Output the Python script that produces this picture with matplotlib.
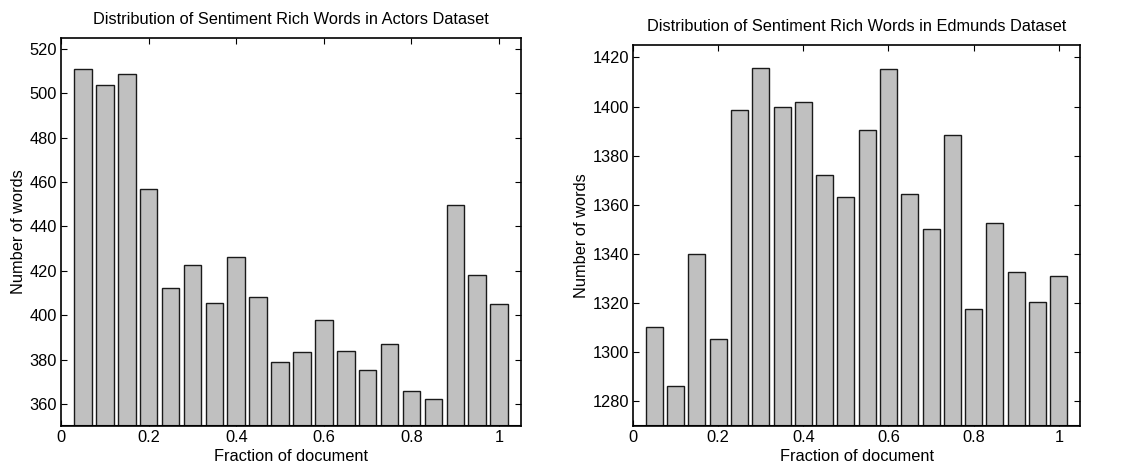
import numpy as np
import matplotlib
matplotlib.use("Agg")
import matplotlib.pyplot as plt

plt.rcParams['font.family'] = ['Liberation Sans', 'DejaVu Sans']

# Bin centres (fraction of document)
fractions = [0.05, 0.10, 0.15, 0.20, 0.25, 0.30, 0.35, 0.40, 0.45, 0.50,
             0.55, 0.60, 0.65, 0.70, 0.75, 0.80, 0.85, 0.90, 0.95, 1.00]

actors_counts = [511.1, 503.9, 508.6, 456.7, 412.3, 422.8, 405.5, 426.4, 408.4, 378.9,
                 383.4, 397.6, 383.9, 375.3, 387.2, 366.0, 362.0, 449.7, 418.1, 405.1]

edmunds_counts = [1310.3, 1286.2, 1340.1, 1305.5, 1398.6, 1415.7, 1399.6, 1401.9, 1372.3, 1363.0,
                  1390.5, 1415.3, 1364.4, 1350.0, 1388.3, 1317.6, 1352.8, 1332.5, 1320.6, 1331.0]

x_ticks = [0, 0.2, 0.4, 0.6, 0.8, 1.0]
x_ticklabels = ['0', '0.2', '0.4', '0.6', '0.8', '1']

FS = 11.8

fig = plt.figure(figsize=(11.26, 4.68), dpi=100)
ax1 = fig.add_axes([0.0542, 0.0897, 0.4085, 0.829])
ax2 = fig.add_axes([0.5622, 0.0897, 0.397, 0.814])


def draw(ax, counts, ylim, yticks, title):
    ax.bar(fractions, np.array(counts) - ylim[0], bottom=ylim[0], width=0.04,
           color='#c0c0c0', edgecolor='#1a1a1a', linewidth=1.0, zorder=2)
    ax.axhline(ylim[0], color='black', linewidth=1.5, zorder=3)
    ax.set_xlim(0, 1.05)
    ax.set_ylim(*ylim)
    ax.set_xticks(x_ticks)
    ax.set_xticklabels(x_ticklabels)
    ax.set_yticks(yticks)
    ax.tick_params(direction='in', top=True, right=True, length=4.5, width=0.8,
                   labelsize=FS, pad=3)
    for s in ax.spines.values():
        s.set_linewidth(1.2)
    ax.set_xlabel('Fraction of document', fontsize=FS, labelpad=2.5)
    ax.set_ylabel('Number of words', fontsize=FS, labelpad=2.5)
    ax.set_title(title, fontsize=FS, pad=10)


draw(ax1, actors_counts, (350, 525), np.arange(360, 521, 20),
     'Distribution of Sentiment Rich Words in Actors Dataset')
draw(ax2, edmunds_counts, (1270, 1425), np.arange(1280, 1421, 20),
     'Distribution of Sentiment Rich Words in Edmunds Dataset')

fig.savefig('out.png', dpi=100)
